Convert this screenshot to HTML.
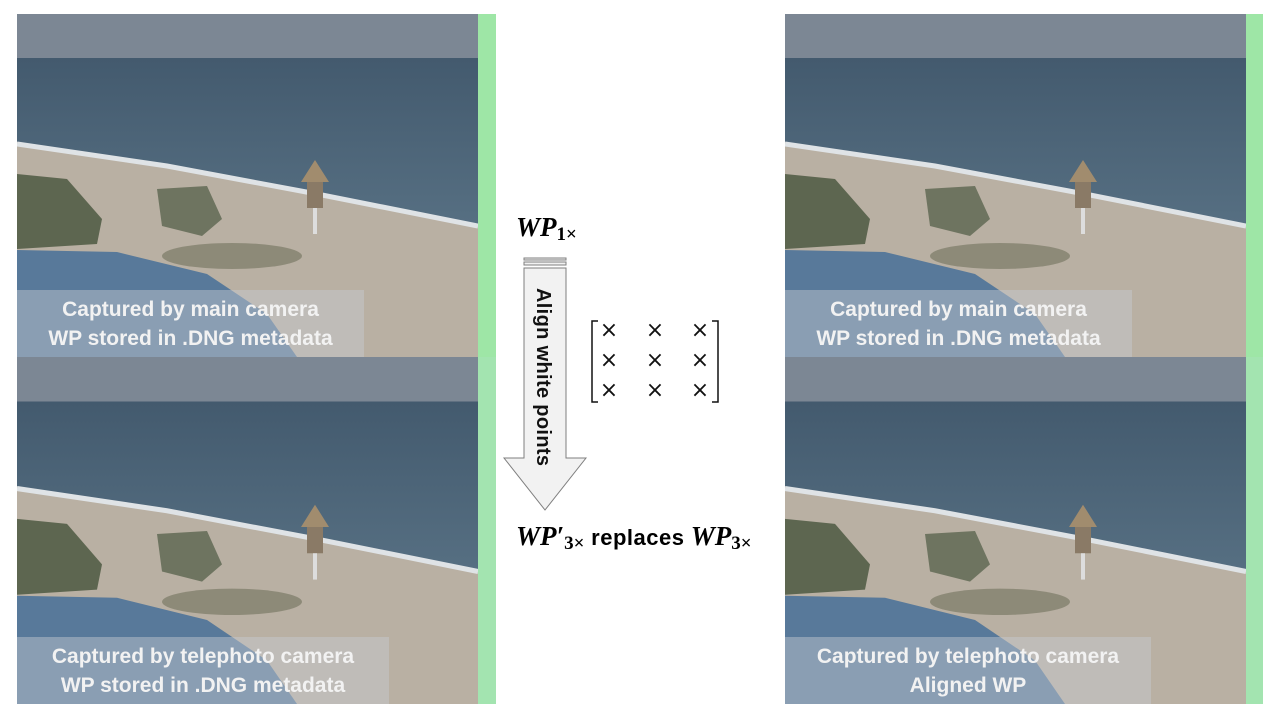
<!DOCTYPE html>
<html><head><meta charset="utf-8"><style>
body{margin:0;width:1280px;height:720px;background:#fff;overflow:hidden;position:relative;font-family:"Liberation Sans",sans-serif}
.cap{position:absolute;background:rgba(200,205,210,0.45);color:#f2f2f2;font-weight:bold;font-size:21px;line-height:29px;text-align:center;padding-top:5px}
.m{font-family:"Liberation Serif",serif;font-style:italic;font-weight:bold;font-size:27px;position:absolute;white-space:nowrap}
.m sub{font-size:19px;font-style:normal;vertical-align:-4px}
</style></head><body>
<svg width="1280" height="720" style="position:absolute;left:0;top:0">
<defs>
<linearGradient id="sea" x1="0" y1="0" x2="0" y2="1"><stop offset="0" stop-color="#435a6e"/><stop offset="1" stop-color="#566f82"/></linearGradient>
<symbol id="ph" viewBox="0 0 461 343" preserveAspectRatio="none">
<rect width="461" height="343" fill="#b9b0a3"/>
<rect width="461" height="44" fill="#7c8794"/>
<polygon points="0,44 461,44 461,210 300,178 150,150 0,128" fill="url(#sea)"/>
<polyline points="0,130 150,152 300,180 461,212" fill="none" stroke="#dfe3e6" stroke-width="5"/>
<polygon points="0,160 50,165 85,205 80,230 0,235" fill="#5d6650"/>
<polygon points="140,175 190,172 205,205 185,222 145,212" fill="#6e7460"/>
<ellipse cx="215" cy="242" rx="70" ry="13" fill="#8d8a78"/>
<polygon points="0,236 100,238 190,260 250,300 280,343 0,343" fill="#58799a"/>
<rect x="290" y="168" width="16" height="26" fill="#8a7a66"/>
<polygon points="284,168 298,146 312,168" fill="#a18c6e"/>
<rect x="296" y="194" width="4" height="26" fill="#ddd"/>
</symbol>
</defs>
<use href="#ph" x="17" y="14" width="461" height="343"/>
<use href="#ph" x="17" y="357" width="461" height="347"/>
<use href="#ph" x="785" y="14" width="461" height="343"/>
<use href="#ph" x="785" y="357" width="461" height="347"/>
<rect x="478" y="14" width="18" height="343" fill="#9ee6a6"/>
<rect x="478" y="357" width="18" height="347" fill="#a3e4b0"/>
<rect x="1246" y="14" width="17" height="343" fill="#9ee6a6"/>
<rect x="1246" y="357" width="17" height="347" fill="#a3e4b0"/>
<g fill="#f2f2f2" stroke="#7f7f7f" stroke-width="1">
<rect x="524" y="258" width="42" height="2"/>
<rect x="524" y="262" width="42" height="3"/>
<polygon points="524,268 566,268 566,458 586,458 545,510 504,458 524,458"/>
</g>
<text transform="translate(537,288) rotate(90)" font-family="Liberation Sans" font-weight="bold" font-size="20" textLength="178" fill="#111">Align white points</text>
<g stroke="#111" stroke-width="1.5" fill="none">
<polyline points="598,321 592,321 592,402 598,402"/>
<polyline points="712,321 718,321 718,402 712,402"/>
</g>
<g font-family="DejaVu Sans" font-size="22" fill="#111" text-anchor="middle">
<text x="609" y="337">×</text><text x="655" y="337">×</text><text x="700" y="337">×</text>
<text x="609" y="367">×</text><text x="655" y="367">×</text><text x="700" y="367">×</text>
<text x="609" y="397">×</text><text x="655" y="397">×</text><text x="700" y="397">×</text>
</g>
</svg>
<div class="m" style="left:516px;top:212px">WP<sub>1×</sub></div>
<div class="m" style="left:516px;top:521px">WP′<sub>3×</sub> <span style="font-family:'Liberation Sans';font-style:normal;font-size:22px;letter-spacing:0.5px">replaces</span> WP<sub>3×</sub></div>
<div class="cap" style="left:17px;top:290px;width:347px;height:62px">Captured by main camera<br>WP stored in .DNG metadata</div>
<div class="cap" style="left:17px;top:637px;width:372px;height:62px">Captured by telephoto camera<br>WP stored in .DNG metadata</div>
<div class="cap" style="left:785px;top:290px;width:347px;height:62px">Captured by main camera<br>WP stored in .DNG metadata</div>
<div class="cap" style="left:785px;top:637px;width:366px;height:62px">Captured by telephoto camera<br>Aligned WP</div>
</body></html>
